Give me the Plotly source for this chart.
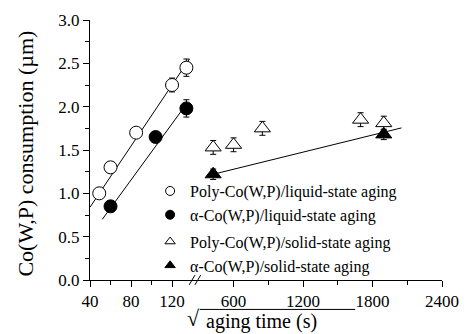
import plotly.graph_objects as go

# ---------------- data ----------------
# left (liquid-state) segment, x = sqrt(aging time)
poly_liq_x = [49, 60, 85, 120, 134]
poly_liq_y = [1.00, 1.30, 1.70, 2.25, 2.45]
poly_liq_err = [0.03, 0.03, 0.03, 0.08, 0.10]

alpha_liq_x = [60, 104, 134]
alpha_liq_y = [0.85, 1.65, 1.98]
alpha_liq_err = [0.03, 0.04, 0.10]

poly_liq_fit_x = [40, 137]
poly_liq_fit_y = [0.84, 2.55]
alpha_liq_fit_x = [52, 134]
alpha_liq_fit_y = [0.70, 2.03]

# right (solid-state) segment
poly_sol_x = [424, 600, 849, 1697, 1897]
poly_sol_y = [1.53, 1.56, 1.75, 1.85, 1.81]
poly_sol_err = [0.08, 0.08, 0.08, 0.08, 0.08]

alpha_sol_x = [424, 1897]
alpha_sol_y = [1.22, 1.68]
alpha_sol_err = [0.06, 0.06]

alpha_sol_fit_x = [424, 2050]
alpha_sol_fit_y = [1.22, 1.755]

left_ticks = [40, 80, 120]
right_ticks = [600, 1200, 1800, 2400]
y_ticks = [0.0, 0.5, 1.0, 1.5, 2.0, 2.5, 3.0]

labels = ["Poly-Co(W,P)/liquid-state aging",
          "\u03b1-Co(W,P)/liquid-state aging",
          "Poly-Co(W,P)/solid-state aging",
          "\u03b1-Co(W,P)/solid-state aging"]

# ---------------- figure ----------------
FONT = "'Times New Roman', 'Liberation Serif', 'DejaVu Serif', serif"
W, H = 470, 334
ML, MR, MT, MB = 90, 11, 15, 54
PW, PH = W - ML - MR, H - MT - MB
BREAK_PX = 200
split = (BREAK_PX - ML) / PW


def px(xp):
    return (xp - ML) / PW


def py(yp):
    return (H - MB - yp) / PH


fig = go.Figure()

black = "black"
line_style = dict(color=black, width=1)


def err(vals):
    return dict(type="data", array=vals, visible=True, color=black, thickness=1, width=3)


# fit lines
fig.add_trace(go.Scatter(x=poly_liq_fit_x, y=poly_liq_fit_y, mode="lines", line=line_style,
                         xaxis="x", yaxis="y", showlegend=False, hoverinfo="skip"))
fig.add_trace(go.Scatter(x=alpha_liq_fit_x, y=alpha_liq_fit_y, mode="lines", line=line_style,
                         xaxis="x", yaxis="y", showlegend=False, hoverinfo="skip"))
fig.add_trace(go.Scatter(x=alpha_sol_fit_x, y=alpha_sol_fit_y, mode="lines", line=line_style,
                         xaxis="x2", yaxis="y", showlegend=False, hoverinfo="skip"))

# data points
fig.add_trace(go.Scatter(x=poly_liq_x, y=poly_liq_y, mode="markers", error_y=err(poly_liq_err),
                         marker=dict(symbol="circle", size=13, color="white", line=dict(color=black, width=1)),
                         xaxis="x", yaxis="y", showlegend=False))
fig.add_trace(go.Scatter(x=alpha_liq_x, y=alpha_liq_y, mode="markers", error_y=err(alpha_liq_err),
                         marker=dict(symbol="circle", size=13, color=black, line=dict(color=black, width=1)),
                         xaxis="x", yaxis="y", showlegend=False))
fig.add_trace(go.Scatter(x=poly_sol_x, y=poly_sol_y, mode="markers", error_y=err(poly_sol_err),
                         marker=dict(symbol="triangle-up", size=14, color="white", line=dict(color=black, width=1)),
                         xaxis="x2", yaxis="y", showlegend=False))
fig.add_trace(go.Scatter(x=alpha_sol_x, y=alpha_sol_y, mode="markers", error_y=err(alpha_sol_err),
                         marker=dict(symbol="triangle-up", size=14, color=black, line=dict(color=black, width=1)),
                         xaxis="x2", yaxis="y", showlegend=False))

# legend entries
leg_styles = [("circle", "white", "liq"), ("circle", black, "liq"),
              ("triangle-up", "white", "sol"), ("triangle-up", black, "sol")]
for name, (sym, col, grp) in zip(labels, leg_styles):
    fig.add_trace(go.Scatter(x=[None], y=[None], mode="markers", name=name, legendgroup=grp,
                             marker=dict(symbol=sym, size=9, color=col, line=dict(color=black, width=1)),
                             xaxis="x", yaxis="y"))

axis_common = dict(showline=True, linecolor=black, linewidth=1, ticks="outside", ticklen=6,
                   tickwidth=1, tickcolor=black, showgrid=False, zeroline=False,
                   ticklabeloverflow="allow",
                   tickfont=dict(family=FONT, size=17, color=black))

fig.update_layout(
    width=W, height=H,
    margin=dict(l=ML, r=MR, t=MT, b=MB),
    paper_bgcolor="white", plot_bgcolor="white",
    font=dict(family=FONT, color=black),
    xaxis=dict(domain=[0, split], range=[40, 40 + (BREAK_PX - ML) / 1.075],
               tickmode="array", tickvals=left_ticks, anchor="y",
               minor=dict(tickvals=[60, 100], ticks="outside", ticklen=4, tickcolor=black),
               **axis_common),
    xaxis2=dict(domain=[split, 1], range=[2400 - (W - MR - BREAK_PX) / 0.1214, 2400],
                tickmode="array", tickvals=right_ticks, anchor="y",
                minor=dict(tickvals=[900, 1500, 2100], ticks="outside", ticklen=4, tickcolor=black),
                **axis_common),
    yaxis=dict(range=[0, 3], tickmode="array", tickvals=y_ticks, tickformat=".1f",
               minor=dict(dtick=0.25, ticks="outside", ticklen=4, tickcolor=black),
               **axis_common),
    legend=dict(x=px(153), y=py(172), xanchor="left", yanchor="top",
                bgcolor="rgba(0,0,0,0)", font=dict(family=FONT, size=16, color=black),
                tracegroupgap=3, itemwidth=30),
    showlegend=True,
)

# y axis title
fig.add_annotation(text="Co(W,P) consumption (\u00b5m)", textangle=-90, xref="paper", yref="paper",
                   x=px(22), y=py(151), xanchor="center", yanchor="middle", showarrow=False,
                   font=dict(family=FONT, size=22, color=black))
# x axis title with square root sign
fig.add_annotation(text="\u221a", xref="paper", yref="paper", x=px(198), y=py(319),
                   xanchor="center", yanchor="middle", showarrow=False,
                   font=dict(family=FONT, size=22, color=black))
fig.add_annotation(text="aging time (s)", xref="paper", yref="paper", x=px(270), y=py(322),
                   xanchor="center", yanchor="middle", showarrow=False,
                   font=dict(family=FONT, size=20, color=black))
fig.add_shape(type="line", xref="paper", yref="paper", x0=px(205), x1=px(368), y0=py(310), y1=py(310),
              line=dict(color=black, width=1))

# axis break marks
for off in (0, 6):
    fig.add_shape(type="line", xref="paper", yref="paper",
                  x0=px(194 + off), x1=px(200 + off), y0=py(285), y1=py(275),
                  line=dict(color=black, width=1))

fig.write_html("out.html")
